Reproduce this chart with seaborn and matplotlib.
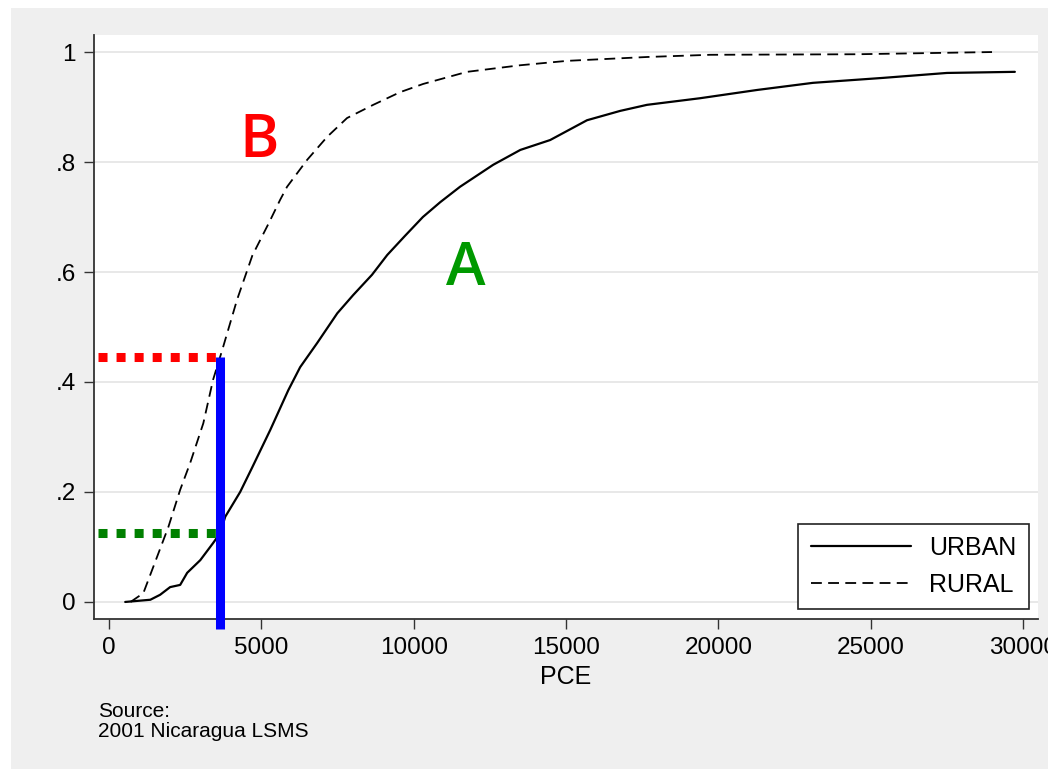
import matplotlib
matplotlib.use("Agg")
import matplotlib.pyplot as plt
import seaborn as sns
import pandas as pd
from matplotlib.lines import Line2D
from matplotlib.patches import Rectangle

# ---- data ----
urban_pce = [525, 1350, 1670, 2000, 2330, 2560, 2990, 3410, 3640, 3810, 4300, 4690,
             5290, 5880, 6270, 6830, 7490, 8010, 8630, 9130, 9700, 10300, 10870,
             11520, 12610, 13500, 14480, 15690, 16780, 17660, 19400, 21270, 23110,
             25410, 27510, 29740]
urban_cdf = [0.0, 0.004, 0.013, 0.027, 0.031, 0.053, 0.076, 0.107, 0.125, 0.155, 0.200, 0.244,
             0.313, 0.385, 0.427, 0.471, 0.525, 0.558, 0.595, 0.631, 0.665, 0.700, 0.727,
             0.755, 0.795, 0.822, 0.840, 0.876, 0.893, 0.904, 0.916, 0.931, 0.944,
             0.953, 0.962, 0.964]

rural_pce = [700, 1120, 1940, 2330, 2660, 3090, 3410, 3710, 4200, 4700, 5250, 5610,
             5840, 6500, 7160, 7810, 8670, 9550, 10310, 11750, 13500, 15040, 17660,
             19730, 24560, 28990]
rural_cdf = [0.0, 0.016, 0.136, 0.204, 0.253, 0.325, 0.404, 0.458, 0.550, 0.630, 0.690, 0.731,
             0.755, 0.804, 0.846, 0.880, 0.904, 0.927, 0.942, 0.964, 0.976, 0.984, 0.991,
             0.995, 0.996, 1.000]

poverty_line = 3640
rural_share = 0.445
urban_share = 0.125

x_ticks = [0, 5000, 10000, 15000, 20000, 25000, 30000]
y_ticks = [0, 0.2, 0.4, 0.6, 0.8, 1.0]
y_tick_labels = ["0", ".2", ".4", ".6", ".8", "1"]
series_labels = ["URBAN", "RURAL"]

# ---- style ----
sns.set_theme(style="white")
plt.rcParams['font.family'] = ['Liberation Sans', 'DejaVu Sans']
plt.rcParams['text.color'] = 'black'

W, H = 1048, 769
fig = plt.figure(figsize=(W / 100, H / 100), dpi=100, facecolor='white')
fig.patches.append(Rectangle((11 / W, 0), 1 - 11 / W, 1 - 8 / H, transform=fig.transFigure,
                             facecolor='#efefef', edgecolor='none', zorder=-10))
ax = fig.add_axes([94 / W, 150 / H, 944 / W, 584 / H])
ax.set_facecolor('white')

for yv in y_ticks:
    ax.axhline(yv, color='#e4e4e4', lw=1.2, zorder=0)

df_u = pd.DataFrame({"PCE": urban_pce, "cdf": urban_cdf})
df_r = pd.DataFrame({"PCE": rural_pce, "cdf": rural_cdf})
sns.lineplot(data=df_u, x="PCE", y="cdf", ax=ax, color='black', lw=1.6,
             estimator=None, sort=False, zorder=2)
sns.lineplot(data=df_r, x="PCE", y="cdf", ax=ax, color='black', lw=1.3,
             estimator=None, sort=False, ls=(0, (6, 3.5)), zorder=2)

# poverty line and shares
ax.plot([poverty_line, poverty_line], [-0.049, rural_share], color='blue', lw=6.5,
        solid_capstyle='butt', clip_on=False, zorder=3)
ax.plot([-360, poverty_line], [rural_share, rural_share], color='red', lw=6.5,
        ls=(0, (1, 1)), dash_capstyle='butt', zorder=4)
ax.plot([-360, poverty_line], [urban_share, urban_share], color='#008000', lw=6.5,
        ls=(0, (1, 1)), dash_capstyle='butt', zorder=4)

ax.text(4925, 0.809, "B", color='red', fontsize=43, family=['Open Sans', 'DejaVu Sans'],
        fontweight='semibold', ha='center', va='baseline')
ax.text(11720, 0.576, "A", color='#009900', fontsize=43, family=['Open Sans', 'DejaVu Sans'],
        fontweight='semibold', ha='center', va='baseline')

ax.set_xlim(-500, 30500)
ax.set_ylim(-0.031, 1.031)
ax.set_xticks(x_ticks)
ax.set_xticklabels([str(v) for v in x_ticks])
ax.set_yticks(y_ticks)
ax.set_yticklabels(y_tick_labels)
ax.tick_params(axis='both', bottom=True, left=True, direction='out', length=7, width=1,
               color='#333333', labelsize=17.5, labelcolor='black', pad=6)
for s in ['top', 'right']:
    ax.spines[s].set_visible(False)
for s in ['left', 'bottom']:
    ax.spines[s].set_color('#333333')
    ax.spines[s].set_linewidth(1.3)
ax.set_xlabel("PCE", fontsize=18, color='black', labelpad=4)
ax.set_ylabel("")

handles = [Line2D([], [], color='black', lw=1.6),
           Line2D([], [], color='black', lw=1.3, ls=(0, (6, 3.5)))]
leg = ax.legend(handles, series_labels, loc='lower right',
                bbox_to_anchor=(1029 / W, 160 / H), bbox_transform=fig.transFigure,
                borderaxespad=0, frameon=True, fancybox=False, fontsize=18,
                handlelength=4, handletextpad=0.75, borderpad=0.5, labelspacing=0.5)
for t in leg.get_texts():
    t.set_color('black')
leg.get_frame().set_edgecolor('#222222')
leg.get_frame().set_linewidth(1.2)
leg.get_frame().set_facecolor('white')
leg.get_frame().set_alpha(1)

fig.text(98 / W, 1 - 717 / H, "Source:", fontsize=15, ha='left', va='baseline', color='black')
fig.text(98 / W, 1 - 737 / H, "2001 Nicaragua LSMS", fontsize=15, ha='left', va='baseline',
         color='black')

fig.savefig("out.png", dpi=100, facecolor=fig.get_facecolor())
